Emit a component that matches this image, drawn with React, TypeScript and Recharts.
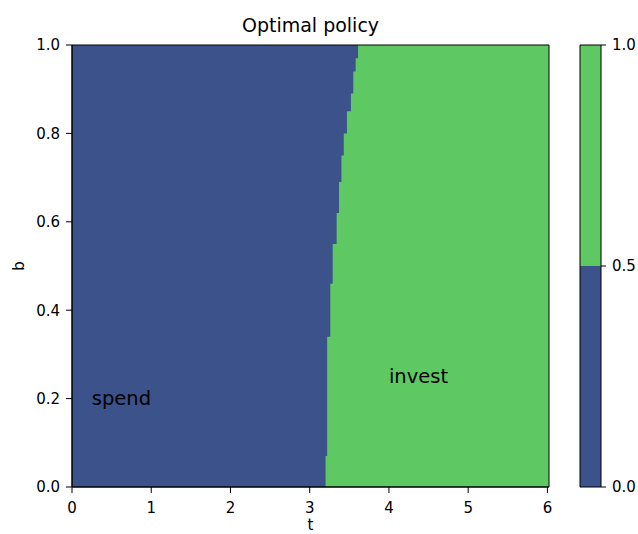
import React from 'react';
import {
  ComposedChart,
  BarChart,
  Area,
  Bar,
  XAxis,
  YAxis,
  CartesianGrid,
  ReferenceDot,
  ReferenceArea,
} from 'recharts';

// policy boundary: for b from bStart[i] upward, switch to invest at t = tSwitch[i]
const bStart = [0, 0.07, 0.34, 0.46, 0.55, 0.62, 0.69, 0.75, 0.8, 0.85, 0.89, 0.94, 0.97];
const tSwitch = [3.2, 3.22, 3.26, 3.29, 3.34, 3.37, 3.4, 3.43, 3.47, 3.52, 3.55, 3.58, 3.61];

const xTicks = [0, 1, 2, 3, 4, 5, 6];
const yTicks = [0, 0.2, 0.4, 0.6, 0.8, 1.0];
const cbTicks = [0, 0.5, 1.0];
const cbLevels = [{ name: 'policy', spend: 0.5, invest: 0.5 }];

const BLUE = '#3b528b';
const GREEN = '#5ec962';
const FONT = '"DejaVu Sans", sans-serif';
const T_MAX = 6.02;

const boundary = [
  ...bStart.map((b, i) => ({ b, t: tSwitch[i] })),
  { b: 1, t: tSwitch[tSwitch.length - 1] },
];

// text anchored at its left edge, vertically centred on the point
const textLabel = (value: string) => (props: any) => {
  const vb = props.viewBox || {};
  const x = vb.x + (vb.width || 0) / 2;
  const y = vb.y + (vb.height || 0) / 2;
  return (
    <text x={x} y={y} dy="0.35em" fontSize={19.5} fill="#000" fontFamily={FONT}>
      {value}
    </text>
  );
};

const tickStyle = { fontSize: 15, fill: '#000', fontFamily: FONT };

const App: React.FC = () => {
  return (
    <div style={{ position: 'relative', width: 638, height: 534, background: '#fff', fontFamily: FONT }}>
      <style>{'body{margin:0}'}</style>
      <div
        style={{
          position: 'absolute',
          left: 72,
          top: 15,
          width: 477,
          textAlign: 'center',
          fontSize: 19,
          lineHeight: '20px',
          color: '#000',
        }}
      >
        Optimal policy
      </div>

      <div style={{ position: 'absolute', left: 0, top: 0 }}>
        <ComposedChart
          width={638}
          height={534}
          layout="vertical"
          data={boundary}
          margin={{ top: 45, right: 89, bottom: 0, left: 0 }}
        >
          <CartesianGrid horizontal={false} vertical={false} fill={GREEN} />
          {/* spend region: filled from t=0 up to the switching time */}
          <Area
            type="stepBefore"
            dataKey="t"
            fill={BLUE}
            fillOpacity={1}
            stroke="none"
            isAnimationActive={false}
          />
          <ReferenceDot x={0.25} y={0.2} r={0} fill="none" stroke="none" label={{ content: textLabel('spend') }} />
          <ReferenceDot x={4} y={0.25} r={0} fill="none" stroke="none" label={{ content: textLabel('invest') }} />
          <ReferenceArea x1={0} x2={T_MAX} y1={0} y2={1} fill="none" stroke="#000" strokeWidth={1} zIndex={1000} />
          <XAxis
            type="number"
            domain={[0, T_MAX]}
            ticks={xTicks}
            interval={0}
            allowDataOverflow
            height={47}
            tick={tickStyle}
            tickSize={6}
            tickMargin={9}
            tickLine={{ stroke: '#000' }}
            axisLine={{ stroke: '#000' }}
            label={{ value: 't', position: 'insideBottom', offset: 4, style: { fontSize: 15, fill: '#000', fontFamily: FONT } }}
          />
          <YAxis
            type="number"
            dataKey="b"
            domain={[0, 1]}
            reversed
            ticks={yTicks}
            interval={0}
            width={72}
            tick={tickStyle}
            tickSize={6}
            tickMargin={6}
            tickFormatter={(v: number) => v.toFixed(1)}
            tickLine={{ stroke: '#000' }}
            axisLine={{ stroke: '#000' }}
            label={{
              value: 'b',
              angle: -90,
              position: 'insideLeft',
              offset: 19,
              style: { fontSize: 15, fill: '#000', fontFamily: FONT, textAnchor: 'middle' },
            }}
          />
        </ComposedChart>
      </div>

      {/* colorbar */}
      <div style={{ position: 'absolute', left: 0, top: 0 }}>
        <BarChart
          width={638}
          height={534}
          data={cbLevels}
          barCategoryGap={0}
          margin={{ top: 45, right: 0, bottom: 47, left: 580 }}
        >
          <XAxis dataKey="name" hide />
          <YAxis
            orientation="right"
            type="number"
            domain={[0, 1]}
            ticks={cbTicks}
            interval={0}
            width={37}
            tick={tickStyle}
            tickSize={5}
            tickMargin={6}
            tickFormatter={(v: number) => v.toFixed(1)}
            tickLine={{ stroke: '#000' }}
            axisLine={false}
          />
          <Bar dataKey="spend" stackId="cb" fill={BLUE} isAnimationActive={false} />
          <Bar dataKey="invest" stackId="cb" fill={GREEN} isAnimationActive={false} />
          <ReferenceArea y1={0} y2={1} fill="none" stroke="#000" strokeWidth={1} zIndex={1000} />
        </BarChart>
      </div>
    </div>
  );
};

export default App;
